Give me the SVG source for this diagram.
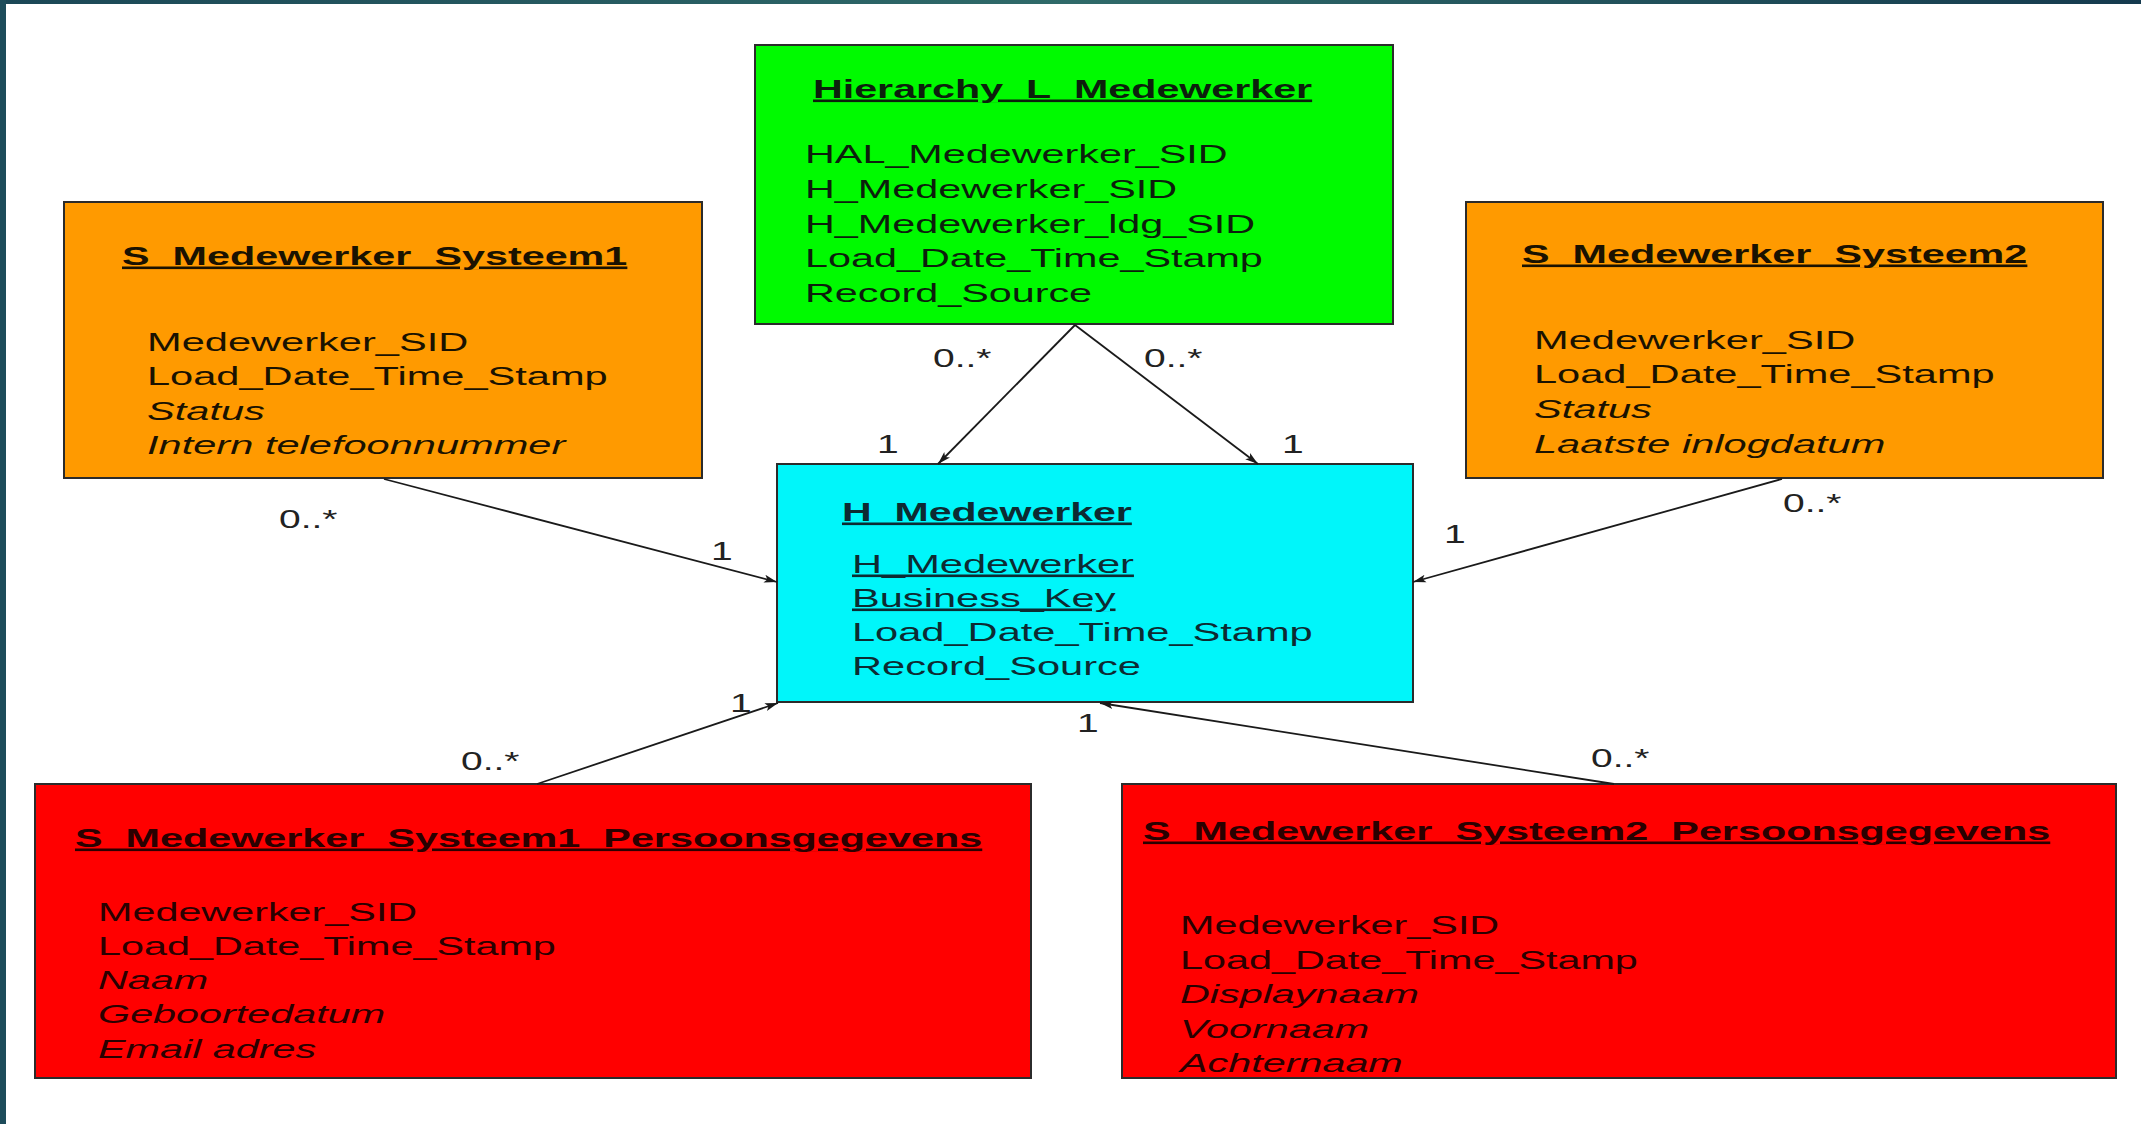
<svg xmlns="http://www.w3.org/2000/svg" width="2141" height="1124" viewBox="0 0 2141 1124">
  <defs>
    <linearGradient id="frameTop" x1="0" y1="0" x2="1" y2="0">
      <stop offset="0" stop-color="#1b4756"/>
      <stop offset="0.5" stop-color="#2f6a69"/>
      <stop offset="1" stop-color="#153a4e"/>
    </linearGradient>
    <marker id="arrow" markerUnits="userSpaceOnUse" markerWidth="14" markerHeight="10" refX="13" refY="5" orient="auto">
      <path d="M0,1 L13,5 L0,9 L3,5 z" fill="#1a1a1a"/>
    </marker>
  </defs>
  <style>
    .box { stroke: #2b2b2b; stroke-width: 2; }
    .t { font-family: "Liberation Sans", Arial, sans-serif; font-size: 26px; }
    .title { font-weight: bold; text-decoration: underline; }
    .key { text-decoration: underline; }
    .it { font-style: italic; }
    .lbl { font-family: "Liberation Sans", Arial, sans-serif; font-size: 26px; fill: #222; }
    .conn { stroke: #1a1a1a; stroke-width: 1.8; fill: none; marker-end: url(#arrow); }
  </style>

  <!-- page background and frame -->
  <rect x="0" y="0" width="2141" height="1124" fill="#ffffff"/>
  <rect x="0" y="0" width="2141" height="4" fill="url(#frameTop)"/>
  <rect x="0" y="0" width="6" height="1124" fill="#1d4c5a"/>

  <!-- link: Hierarchy_L_Medewerker -->
  <g id="hierarchy-l-medewerker">
    <rect class="box" x="755" y="45" width="638" height="279" fill="#00fa00"/>
    <g class="t" fill="#0c1f0c" transform="translate(813,0) scale(1.585,1)">
      <text class="title" x="0" y="98">Hierarchy_L_Medewerker</text>
    </g>
    <g class="t" fill="#0c1f0c" transform="translate(805,0) scale(1.59,1)">
      <text x="0" y="163">HAL_Medewerker_SID</text>
      <text x="0" y="198">H_Medewerker_SID</text>
      <text x="0" y="233">H_Medewerker_ldg_SID</text>
      <text x="0" y="267">Load_Date_Time_Stamp</text>
      <text x="0" y="302">Record_Source</text>
    </g>
  </g>

  <!-- satellite: S_Medewerker_Systeem1 -->
  <g id="s-medewerker-systeem1">
    <rect class="box" x="64" y="202" width="638" height="276" fill="#ff9a00"/>
    <g class="t" fill="#1a1200" transform="translate(122,0) scale(1.59,1)">
      <text class="title" x="0" y="265">S_Medewerker_Systeem1</text>
    </g>
    <g class="t" fill="#1a1200" transform="translate(147,0) scale(1.6,1)">
      <text x="0" y="351">Medewerker_SID</text>
      <text x="0" y="385">Load_Date_Time_Stamp</text>
      <text class="it" x="0" y="420">Status</text>
      <text class="it" x="0" y="454">Intern telefoonnummer</text>
    </g>
  </g>

  <!-- satellite: S_Medewerker_Systeem2 -->
  <g id="s-medewerker-systeem2">
    <rect class="box" x="1466" y="202" width="637" height="276" fill="#ff9a00"/>
    <g class="t" fill="#1a1200" transform="translate(1522,0) scale(1.59,1)">
      <text class="title" x="0" y="263">S_Medewerker_Systeem2</text>
    </g>
    <g class="t" fill="#1a1200" transform="translate(1534,0) scale(1.6,1)">
      <text x="0" y="349">Medewerker_SID</text>
      <text x="0" y="383">Load_Date_Time_Stamp</text>
      <text class="it" x="0" y="418">Status</text>
      <text class="it" x="0" y="453">Laatste inlogdatum</text>
    </g>
  </g>

  <!-- hub: H_Medewerker -->
  <g id="h-medewerker">
    <rect class="box" x="777" y="464" width="636" height="238" fill="#00f6fa"/>
    <g class="t" fill="#0d2b32" transform="translate(842,0) scale(1.58,1)">
      <text class="title" x="0" y="521">H_Medewerker</text>
    </g>
    <g class="t" fill="#0d2b32" transform="translate(852,0) scale(1.6,1)">
      <text class="key" x="0" y="573">H_Medewerker</text>
      <text class="key" x="0" y="607">Business_Key</text>
      <text x="0" y="641">Load_Date_Time_Stamp</text>
      <text x="0" y="675">Record_Source</text>
    </g>
  </g>

  <!-- satellite: S_Medewerker_Systeem1_Persoonsgegevens -->
  <g id="s-medewerker-systeem1-persoonsgegevens">
    <rect class="box" x="35" y="784" width="996" height="294" fill="#ff0000"/>
    <g class="t" fill="#2a0000" transform="translate(75,0) scale(1.59,1)">
      <text class="title" x="0" y="847">S_Medewerker_Systeem1_Persoonsgegevens</text>
    </g>
    <g class="t" fill="#2a0000" transform="translate(98,0) scale(1.59,1)">
      <text x="0" y="921">Medewerker_SID</text>
      <text x="0" y="955">Load_Date_Time_Stamp</text>
      <text class="it" x="0" y="989">Naam</text>
      <text class="it" x="0" y="1023">Geboortedatum</text>
      <text class="it" x="0" y="1058">Email adres</text>
    </g>
  </g>

  <!-- satellite: S_Medewerker_Systeem2_Persoonsgegevens -->
  <g id="s-medewerker-systeem2-persoonsgegevens">
    <rect class="box" x="1122" y="784" width="994" height="294" fill="#ff0000"/>
    <g class="t" fill="#2a0000" transform="translate(1143,0) scale(1.59,1)">
      <text class="title" x="0" y="840">S_Medewerker_Systeem2_Persoonsgegevens</text>
    </g>
    <g class="t" fill="#2a0000" transform="translate(1180,0) scale(1.59,1)">
      <text x="0" y="934">Medewerker_SID</text>
      <text x="0" y="969">Load_Date_Time_Stamp</text>
      <text class="it" x="0" y="1003">Displaynaam</text>
      <text class="it" x="0" y="1038">Voornaam</text>
      <text class="it" x="0" y="1072">Achternaam</text>
    </g>
  </g>

  <!-- associations with multiplicities -->
  <g id="connectors">
    <line class="conn" x1="1075" y1="325" x2="938" y2="464"/>
    <line class="conn" x1="1075" y1="325" x2="1258" y2="464"/>
    <line class="conn" x1="384" y1="479" x2="777" y2="582"/>
    <line class="conn" x1="1782" y1="479" x2="1413" y2="582"/>
    <line class="conn" x1="537" y1="784" x2="778" y2="703"/>
    <line class="conn" x1="1614" y1="784" x2="1100" y2="703"/>

    <g class="lbl">
      <text transform="translate(933,367) scale(1.5,1)">0..*</text>
      <text transform="translate(1144,367) scale(1.5,1)">0..*</text>
      <text transform="translate(877,453) scale(1.5,1)">1</text>
      <text transform="translate(1282,453) scale(1.5,1)">1</text>
      <text transform="translate(279,528) scale(1.5,1)">0..*</text>
      <text transform="translate(711,560) scale(1.5,1)">1</text>
      <text transform="translate(1444,543) scale(1.5,1)">1</text>
      <text transform="translate(1783,512) scale(1.5,1)">0..*</text>
      <text transform="translate(461,770) scale(1.5,1)">0..*</text>
      <text transform="translate(730,712) scale(1.5,1)">1</text>
      <text transform="translate(1077,732) scale(1.5,1)">1</text>
      <text transform="translate(1591,767) scale(1.5,1)">0..*</text>
    </g>
  </g>
</svg>
